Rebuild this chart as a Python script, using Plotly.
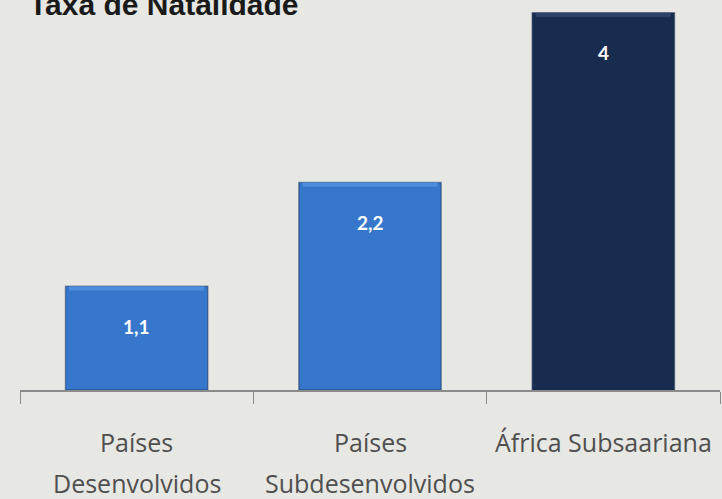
import plotly.graph_objects as go

# dados
categorias = ["Países<br>Desenvolvidos", "Países<br>Subdesenvolvidos", "África Subsaariana"]
valores = [1.1, 2.2, 4]
cores = ["#3677cb", "#3677cb", "#182c50"]
cores_topo = ["#4e8ddb", "#4e8ddb", "#2c4269"]
titulo = "Taxa de Natalidade"

fig = go.Figure()

# barras principais
fig.add_trace(go.Bar(
    x=categorias,
    y=valores,
    marker=dict(color=cores, line=dict(color="rgba(20,40,80,0.45)", width=1.5)),
    hoverinfo="skip",
))

# faixa clara no topo (efeito de bisel)
fig.add_trace(go.Bar(
    x=categorias,
    y=[0.045] * len(valores),
    base=[v - 0.045 for v in valores],
    marker=dict(color=cores_topo, line=dict(width=0)),
    width=0.58,
    hoverinfo="skip",
))

annotations = []
# rótulos de valor
for cat, v in zip(categorias, valores):
    annotations.append(dict(
        x=cat, y=v, xref="x", yref="y",
        text=f"<b>{v:g}</b>".replace(".", ","),
        showarrow=False, yanchor="middle", yshift=-40,
        font=dict(family="Lato, Roboto, sans-serif", size=19, color="white"),
    ))

# rótulos das categorias (duas linhas)
for cat in categorias:
    for i, linha in enumerate(cat.split("<br>")):
        annotations.append(dict(
            x=cat, y=0, xref="x", yref="y",
            text=linha, showarrow=False, yanchor="middle",
            yshift=-52 - 41 * i,
            font=dict(family="Open Sans, sans-serif", size=25, color="#4f4f4f"),
        ))

# título
annotations.append(dict(
    x=0, y=1, xref="paper", yref="paper",
    text=f"<b>{titulo}</b>", showarrow=False,
    xanchor="left", yanchor="bottom", xshift=7, yshift=-23,
    font=dict(family="Liberation Sans, Arial, sans-serif", size=30, color="#1a1a1a"),
))

fig.update_layout(
    width=722,
    height=499,
    margin=dict(l=20, r=2, t=0, b=109),
    paper_bgcolor="#e7e8e3",
    plot_bgcolor="#e7e8e3",
    barmode="overlay",
    bargap=0.39,
    showlegend=False,
    annotations=annotations,
    xaxis=dict(
        showticklabels=False,
        showline=True, linecolor="#8a8a8a", linewidth=2,
        ticks="outside", tickson="boundaries", ticklen=12,
        tickcolor="#8a8a8a", tickwidth=1,
        showgrid=False,
    ),
    yaxis=dict(
        range=[0, 4.135],
        visible=False,
        showgrid=False,
        zeroline=False,
    ),
)

fig.write_html(
    "out.html",
    config={"displayModeBar": False},
    post_script="document.body.style.margin='0px';",
)
